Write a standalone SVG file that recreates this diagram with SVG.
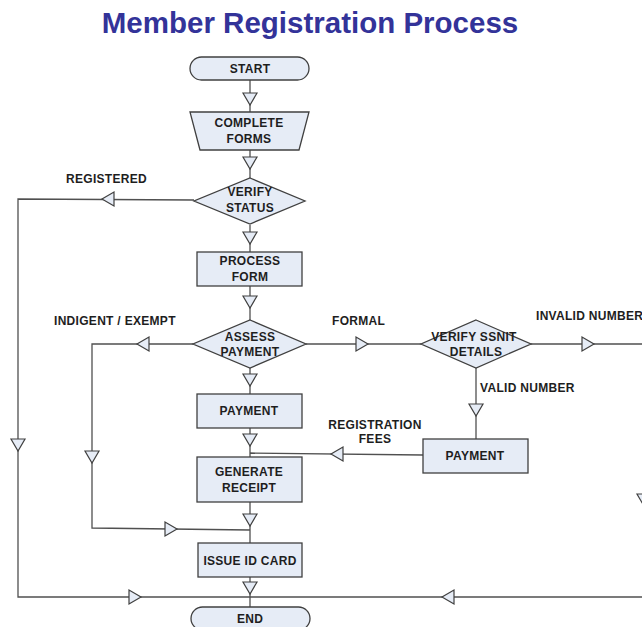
<svg xmlns="http://www.w3.org/2000/svg" xmlns:xlink="http://www.w3.org/1999/xlink" width="642" height="627" viewBox="0 0 642 627">
<style>
.node{fill:#e6ecf6;stroke:#404040;stroke-width:1.3}
.t{font-family:"Liberation Sans",Arial,sans-serif;font-weight:bold;font-size:12px;letter-spacing:0.3px;fill:#1e1e1e;text-anchor:middle}
.lbl{font-family:"Liberation Sans",Arial,sans-serif;font-weight:bold;font-size:12px;letter-spacing:0.3px;fill:#1e1e1e}
.c{fill:none;stroke:#505050;stroke-width:1.3}
.tri{fill:#e6ecf6;stroke:#404040;stroke-width:1.2}
.title{font-family:"Liberation Sans",Arial,sans-serif;font-weight:bold;font-size:29.5px;fill:#333399;text-anchor:middle}
</style>
<defs>
<polygon id="tri" class="tri" points="-7,-6 7,-6 0,6"/>
</defs>
<rect width="642" height="627" fill="#ffffff"/>
<text class="title" x="310" y="33">Member Registration Process</text>

<g id="connectors">
<path class="c" d="M250,80V112"/>
<path class="c" d="M250,150V178"/>
<path class="c" d="M250,225V252"/>
<path class="c" d="M250,286V320"/>
<path class="c" d="M250,368V394"/>
<path class="c" d="M250,428V457"/>
<path class="c" d="M250,502V543"/>
<path class="c" d="M250,577V607"/>
<path class="c" d="M194,200L18,199V597H250"/>
<path class="c" d="M193,344H92V528L250,530"/>
<path class="c" d="M306,344H421"/>
<path class="c" d="M531,344H644V597H250"/>
<path class="c" d="M476,368V439"/>
<path class="c" d="M423,455L250,453"/>
<use xlink:href="#tri" transform="translate(250,99)"/>
<use xlink:href="#tri" transform="translate(250,163)"/>
<use xlink:href="#tri" transform="translate(250,238)"/>
<use xlink:href="#tri" transform="translate(250,302)"/>
<use xlink:href="#tri" transform="translate(250,380)"/>
<use xlink:href="#tri" transform="translate(250,440)"/>
<use xlink:href="#tri" transform="translate(250,520)"/>
<use xlink:href="#tri" transform="translate(250,588)"/>
<use xlink:href="#tri" transform="translate(108,199) rotate(90)"/>
<use xlink:href="#tri" transform="translate(18,445)"/>
<use xlink:href="#tri" transform="translate(135,597) rotate(-90)"/>
<use xlink:href="#tri" transform="translate(448,597) rotate(90)"/>
<use xlink:href="#tri" transform="translate(143,344) rotate(90)"/>
<use xlink:href="#tri" transform="translate(92,457)"/>
<use xlink:href="#tri" transform="translate(171,529) rotate(-90)"/>
<use xlink:href="#tri" transform="translate(362,344) rotate(-90)"/>
<use xlink:href="#tri" transform="translate(588,344) rotate(-90)"/>
<use xlink:href="#tri" transform="translate(476,410)"/>
<use xlink:href="#tri" transform="translate(337,454) rotate(90)"/>
<use xlink:href="#tri" transform="translate(644,500)"/>
</g>

<g id="labels">
<text class="lbl" x="66" y="183">REGISTERED</text>
<text class="lbl" x="54" y="325">INDIGENT / EXEMPT</text>
<text class="lbl" x="332" y="325">FORMAL</text>
<text class="lbl" x="536" y="320">INVALID NUMBER</text>
<text class="lbl" x="480" y="392">VALID NUMBER</text>
<text class="t" x="375" y="429">REGISTRATION</text>
<text class="t" x="375" y="443">FEES</text>
</g>

<g id="start">
<rect class="node" x="190" y="57" width="119" height="23" rx="11.5"/>
<text class="t" x="250" y="73">START</text>
</g>
<g id="complete-forms">
<polygon class="node" points="190,112 309,112 299,150 200,150"/>
<text class="t" x="249" y="127">COMPLETE</text>
<text class="t" x="249" y="143">FORMS</text>
</g>
<g id="verify-status">
<polygon class="node" points="250,178 305,201 250,224 194,201"/>
<text class="t" x="250" y="196">VERIFY</text>
<text class="t" x="250" y="212">STATUS</text>
</g>
<g id="process-form">
<rect class="node" x="197" y="252" width="105" height="34"/>
<text class="t" x="250" y="265">PROCESS</text>
<text class="t" x="250" y="281">FORM</text>
</g>
<g id="assess-payment">
<polygon class="node" points="250,320 306,344 250,368 193,344"/>
<text class="t" x="250" y="341">ASSESS</text>
<text class="t" x="250" y="356">PAYMENT</text>
</g>
<g id="payment">
<rect class="node" x="197" y="394" width="105" height="34"/>
<text class="t" x="249" y="415">PAYMENT</text>
</g>
<g id="generate-receipt">
<rect class="node" x="197" y="457" width="105" height="45"/>
<text class="t" x="249" y="476">GENERATE</text>
<text class="t" x="249" y="492">RECEIPT</text>
</g>
<g id="issue-id-card">
<rect class="node" x="198" y="543" width="104" height="34"/>
<text class="t" x="250" y="565">ISSUE ID CARD</text>
</g>
<g id="end">
<rect class="node" x="191" y="607" width="119" height="23" rx="11.5"/>
<text class="t" x="250" y="623">END</text>
</g>
<g id="verify-ssnit">
<polygon class="node" points="476,320 531,344 476,368 421,344"/>
<text class="t" x="474" y="341">VERIFY SSNIT</text>
<text class="t" x="476" y="356">DETAILS</text>
</g>
<g id="payment-2">
<rect class="node" x="423" y="439" width="105" height="34"/>
<text class="t" x="475" y="460">PAYMENT</text>
</g>
</svg>
